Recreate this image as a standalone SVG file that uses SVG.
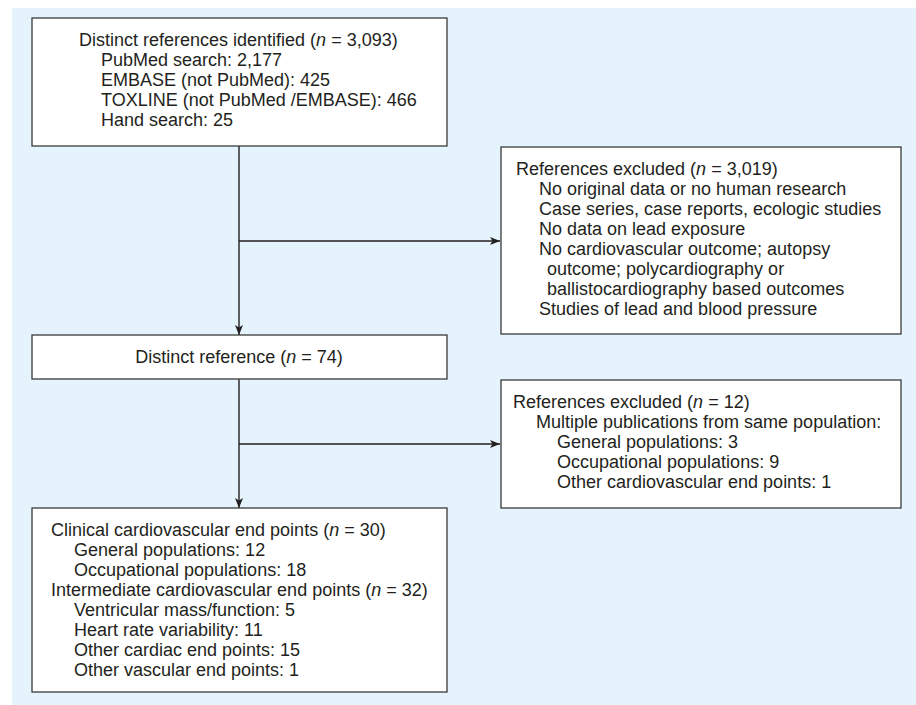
<svg xmlns="http://www.w3.org/2000/svg" width="916" height="705" viewBox="0 0 916 705">
<defs>
<style>
.bg{fill:#e5f4fc}
.box{fill:#ffffff;stroke:#3a3a3a;stroke-width:1.3}
.t{font-family:"Liberation Sans",Arial,sans-serif;font-size:18px;fill:#231f20}
.c{text-anchor:middle}
.conn{fill:none;stroke:#231f20;stroke-width:1.4}
</style>
<marker id="arr" markerWidth="10" markerHeight="8" refX="10" refY="4" orient="auto" markerUnits="userSpaceOnUse">
<path d="M0,0 L10,4 L0,8 L2.5,4 Z" fill="#231f20"/>
</marker>
</defs>
<rect class="bg" x="12" y="8" width="904" height="697"/>
<g id="connectors">
<line class="conn" x1="239" y1="146" x2="239" y2="335" marker-end="url(#arr)"/>
<line class="conn" x1="239" y1="241" x2="500" y2="241" marker-end="url(#arr)"/>
<line class="conn" x1="239" y1="379" x2="239" y2="508" marker-end="url(#arr)"/>
<line class="conn" x1="239" y1="444" x2="500" y2="444" marker-end="url(#arr)"/>
</g>
<g id="identified">
<rect class="box" x="32" y="18" width="415" height="128"/>
<text class="t" x="79" y="46">Distinct references identified (<tspan font-style="italic">n</tspan> = 3,093)</text>
<text class="t" x="101" y="66">PubMed search: 2,177</text>
<text class="t" x="101" y="86">EMBASE (not PubMed): 425</text>
<text class="t" x="101" y="106">TOXLINE (not PubMed /EMBASE): 466</text>
<text class="t" x="101" y="126">Hand search: 25</text>
</g>
<g id="excluded1">
<rect class="box" x="501" y="147" width="400" height="187"/>
<text class="t" x="516" y="175">References excluded (<tspan font-style="italic">n</tspan> = 3,019)</text>
<text class="t" x="539" y="195">No original data or no human research</text>
<text class="t" x="539" y="215">Case series, case reports, ecologic studies</text>
<text class="t" x="539" y="235">No data on lead exposure</text>
<text class="t" x="539" y="255">No cardiovascular outcome; autopsy</text>
<text class="t" x="547" y="275">outcome; polycardiography or</text>
<text class="t" x="547" y="295">ballistocardiography based outcomes</text>
<text class="t" x="539" y="315">Studies of lead and blood pressure</text>
</g>
<g id="distinct">
<rect class="box" x="32" y="335" width="415" height="44"/>
<text class="t c" x="239" y="363">Distinct reference (<tspan font-style="italic">n</tspan> = 74)</text>
</g>
<g id="excluded2">
<rect class="box" x="501" y="380" width="400" height="128"/>
<text class="t" x="513" y="408">References excluded (<tspan font-style="italic">n</tspan> = 12)</text>
<text class="t" x="536" y="428">Multiple publications from same population:</text>
<text class="t" x="557" y="448">General populations: 3</text>
<text class="t" x="557" y="468">Occupational populations: 9</text>
<text class="t" x="557" y="488">Other cardiovascular end points: 1</text>
</g>
<g id="included">
<rect class="box" x="32" y="508" width="415" height="184"/>
<text class="t" x="51" y="536">Clinical cardiovascular end points (<tspan font-style="italic">n</tspan> = 30)</text>
<text class="t" x="74" y="556">General populations: 12</text>
<text class="t" x="74" y="576">Occupational populations: 18</text>
<text class="t" x="51" y="596">Intermediate cardiovascular end points (<tspan font-style="italic">n</tspan> = 32)</text>
<text class="t" x="74" y="616">Ventricular mass/function: 5</text>
<text class="t" x="74" y="636">Heart rate variability: 11</text>
<text class="t" x="74" y="656">Other cardiac end points: 15</text>
<text class="t" x="74" y="676">Other vascular end points: 1</text>
</g>
</svg>
